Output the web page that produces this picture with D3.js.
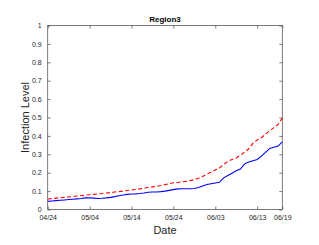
<!DOCTYPE html>
<html><head><meta charset="utf-8">
<script src="https://cdn.jsdelivr.net/npm/d3@7"></script>
<style>body{margin:0;background:#fff}svg{display:block}text{font-family:"Liberation Sans",Arial,sans-serif}</style>
</head><body>
<script>
const startDate = "2020-04-24";
const xTickDays = [0, 10, 20, 30, 40, 50, 56];
const xTickLabels = ["04/24", "05/04", "05/14", "05/24", "06/03", "06/13", "06/19"];
const yTicks = [0, 0.1, 0.2, 0.3, 0.4, 0.5, 0.6, 0.7, 0.8, 0.9, 1];
const observed = [0.044,0.046,0.048,0.050,0.052,0.054,0.056,0.058,0.060,0.063,
  0.064,0.062,0.060,0.061,0.063,0.066,0.070,0.075,0.079,0.082,
  0.084,0.085,0.087,0.090,0.094,0.095,0.095,0.097,0.100,0.104,
  0.108,0.112,0.113,0.113,0.113,0.114,0.120,0.128,0.136,0.140,
  0.144,0.148,0.172,0.185,0.197,0.210,0.220,0.248,0.258,0.265,
  0.272,0.290,0.310,0.332,0.338,0.345,0.368];
const predicted = [0.057,0.059,0.062,0.064,0.066,0.068,0.070,0.073,0.075,0.078,
  0.080,0.082,0.085,0.087,0.090,0.092,0.095,0.097,0.100,0.103,
  0.106,0.109,0.112,0.116,0.120,0.123,0.126,0.130,0.135,0.140,
  0.145,0.147,0.150,0.153,0.157,0.162,0.170,0.180,0.192,0.203,
  0.215,0.226,0.245,0.262,0.272,0.280,0.295,0.312,0.330,0.360,
  0.378,0.390,0.410,0.428,0.445,0.462,0.497];

const W = 319, H = 245;
const L = 47.7, R = 282.3, T = 25.5, B = 209.5;
const svg = d3.select("body").append("svg").attr("width", W).attr("height", H);
const x = d3.scaleLinear().domain([0, 56]).range([L, R]);
const y = d3.scaleLinear().domain([0, 1]).range([B, T]);
const axisColor = "#5a5a5a";

svg.append("rect").attr("x", L).attr("y", T).attr("width", R - L).attr("height", B - T)
  .attr("fill", "#fff").attr("stroke", axisColor).attr("stroke-width", 0.8);

const fmt = d => d === 0 ? "0" : d === 1 ? "1" : d3.format(".1f")(d);
const gy = svg.append("g").attr("transform", `translate(${L},0)`)
  .call(d3.axisLeft(y).tickValues(yTicks).tickFormat(fmt).tickSizeInner(-3).tickSizeOuter(0).tickPadding(6));
const gyr = svg.append("g").attr("transform", `translate(${R},0)`)
  .call(d3.axisRight(y).tickValues(yTicks).tickFormat("").tickSizeInner(-3).tickSizeOuter(0));
const gx = svg.append("g").attr("transform", `translate(0,${B})`)
  .call(d3.axisBottom(x).tickValues(xTickDays).tickFormat((d, i) => xTickLabels[i]).tickSizeInner(-3).tickSizeOuter(0).tickPadding(6));
const gxt = svg.append("g").attr("transform", `translate(0,${T})`)
  .call(d3.axisTop(x).tickValues(xTickDays).tickFormat("").tickSizeInner(-3).tickSizeOuter(0));
[gy, gyr, gx, gxt].forEach(g => {
  g.select(".domain").remove();
  g.selectAll("line").attr("stroke", axisColor).attr("stroke-width", 0.8);
  g.selectAll("text").attr("fill", "#262626").attr("font-size", 7).style("font-family", '"Liberation Sans",Arial,sans-serif');
});

const line = d3.line().x((d, i) => x(i)).y(d => y(d));
svg.append("path").datum(observed).attr("d", line).attr("fill", "none")
  .attr("stroke", "#0000ff").attr("stroke-width", 1.1);
svg.append("path").datum(predicted).attr("d", line).attr("fill", "none")
  .attr("stroke", "#ff0000").attr("stroke-width", 1.1).attr("stroke-dasharray", "4,2.5");

svg.append("text").attr("x", (L + R) / 2).attr("y", 22).attr("text-anchor", "middle")
  .attr("font-size", 8).attr("font-weight", "bold").attr("fill", "#000").text("Region3");
svg.append("text").attr("x", (L + R) / 2).attr("y", 234).attr("text-anchor", "middle")
  .attr("font-size", 11).attr("fill", "#262626").text("Date");
svg.append("text").attr("transform", `translate(28.5,${(T + B) / 2}) rotate(-90)`).attr("text-anchor", "middle")
  .attr("font-size", 11).attr("fill", "#262626").text("Infection Level");
</script>
</body></html>
